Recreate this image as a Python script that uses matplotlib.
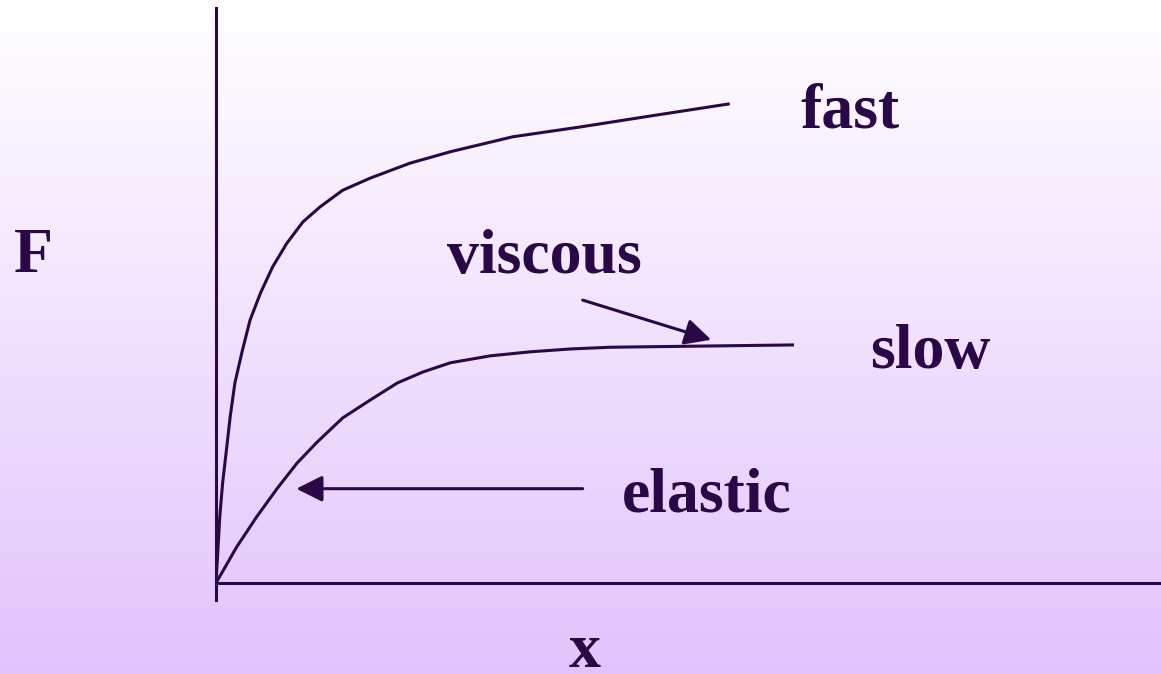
"""Force vs extension sketch: fast / slow loading curves."""
import numpy as np
import matplotlib
matplotlib.use("Agg")
import matplotlib.pyplot as plt

# curve values (x, F in arbitrary units, axes 0..10)
fast_x = [0.0, 0.02, 0.04, 0.07, 0.11, 0.15, 0.20, 0.28, 0.36, 0.47, 0.60, 0.75,
          0.92, 1.10, 1.34, 1.63, 2.05, 2.48, 3.14, 3.85, 4.59, 5.42]
fast_F = [0.0, 0.57, 1.15, 1.74, 2.31, 2.89, 3.48, 4.05, 4.57, 5.04, 5.50, 5.91,
          6.28, 6.54, 6.83, 7.04, 7.30, 7.50, 7.76, 7.93, 8.12, 8.33]
slow_x = [0.0, 0.22, 0.43, 0.65, 0.86, 1.07, 1.34, 1.63, 1.92, 2.19, 2.48, 2.90,
          3.32, 3.75, 4.17, 5.12, 6.10]
slow_F = [0.0, 0.63, 1.15, 1.65, 2.09, 2.45, 2.87, 3.18, 3.48, 3.67, 3.83, 3.95,
          4.02, 4.07, 4.10, 4.12, 4.14]

# annotation arrows: (tail, tip) in data units
viscous_arrow = ((3.88, 4.92), (5.24, 4.23))
elastic_arrow = ((3.88, 1.64), (0.85, 1.64))

labels = ["fast", "viscous", "slow", "elastic", "F", "x"]
# label anchor (left, baseline) in pixels of the 1161x674 figure
label_pos = [(800, 128), (447, 273), (870, 368), (622, 512), (14, 272), (569, 667)]

W, H = 1161, 674
ink = "#2A0848"

fig = plt.figure(figsize=(W / 100, H / 100), dpi=100)

# gradient background, white at top to lavender at bottom
bg = fig.add_axes([0, 0, 1, 1])
t = np.linspace(0, 1, 256)[:, None]
top = np.array([1.0, 1.0, 1.0])
bottom = np.array([226, 196, 252]) / 255
grad = top + (bottom - top) * t[..., None]
grad = np.repeat(grad, 2, axis=1)
bg.imshow(grad, aspect="auto", extent=[0, 1, 0, 1], origin="upper")
bg.set_axis_off()

ax = fig.add_axes([216 / W, (H - 583) / H, 945 / W, 575 / H])
ax.set_xlim(0, 10)
ax.set_ylim(0, 10)
ax.set_axis_off()
ax.patch.set_alpha(0)

# axes lines
ax.axvline(0, ymin=-17 / 575, ymax=1, color=ink, lw=2.2, clip_on=False)
ax.axhline(0, xmin=0, xmax=1, color=ink, lw=2.2, clip_on=False)

ax.plot(fast_x, fast_F, color=ink, lw=2.2, solid_joinstyle="round")
ax.plot(slow_x, slow_F, color=ink, lw=2.2, solid_joinstyle="round")

for tail, tip in (viscous_arrow, elastic_arrow):
    ax.annotate("", xy=tip, xytext=tail,
                arrowprops=dict(arrowstyle="-|>,head_length=1.6,head_width=0.8",
                                color=ink, lw=2.2, shrinkA=0, shrinkB=0))

for txt, (px, py) in zip(labels, label_pos):
    fig.text(px / W, 1 - py / H, txt, ha="left", va="baseline",
             fontsize=46, fontweight="bold", family="Liberation Serif", color=ink)

fig.savefig("out.png", dpi=100)
